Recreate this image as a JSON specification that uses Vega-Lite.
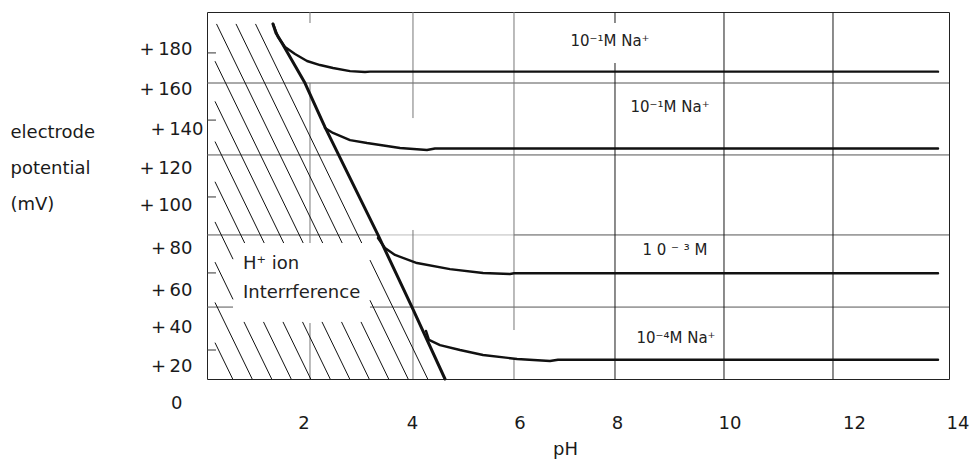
{
  "$schema": "https://vega.github.io/schema/vega-lite/v6.json",
  "width": 742,
  "height": 367,
  "autosize": "none",
  "padding": {"left": 207, "top": 12, "right": 31, "bottom": 80},
  "background": "white",
  "config": {
    "view": {"stroke": "#222", "strokeWidth": 1},
    "font": "DejaVu Sans",
    "axis": {
      "labelFont": "DejaVu Sans",
      "labelFontSize": 18,
      "labelColor": "#1a1a1a",
      "titleFont": "DejaVu Sans",
      "titleFontSize": 18,
      "titleFontWeight": "normal",
      "titleColor": "#1a1a1a",
      "grid": false,
      "ticks": false,
      "domain": false
    }
  },
  "datasets": {
    "hgrid": [
      {"x": 0, "x2": 14.2, "y": 161.3},
      {"x": 0, "x2": 14.2, "y": 122.1},
      {"x": 0, "x2": 3.272, "y": 78.5},
      {"x": 5.875, "x2": 14.2, "y": 78.5},
      {"x": 0, "x2": 0.498, "y": 39.2},
      {"x": 3.119, "x2": 14.2, "y": 39.2}
    ],
    "hfaint": [
      {"x": 3.272, "x2": 5.875, "y": 78.5}
    ],
    "vgrid": [
      {"x": 1.971, "y": 200, "y2": 194.0},
      {"x": 1.971, "y": 161.3, "y2": 74.1},
      {"x": 1.971, "y": 30.5, "y2": 0},
      {"x": 3.942, "y": 200, "y2": 142.2},
      {"x": 3.942, "y": 81.2, "y2": 0},
      {"x": 5.875, "y": 200, "y2": 26.7},
      {"x": 5.875, "y": 11.4, "y2": 0},
      {"x": 7.808, "y": 200, "y2": 194.0},
      {"x": 7.808, "y": 172.2, "y2": 0},
      {"x": 9.894, "y": 200, "y2": 0},
      {"x": 11.98, "y": 200, "y2": 0}
    ],
    "ticks": [
      {"x": 0, "x2": 0.172, "y": 177.7},
      {"x": 0, "x2": 0.172, "y": 141.1},
      {"x": 0, "x2": 0.172, "y": 99.2},
      {"x": 0, "x2": 0.172, "y": 57.8},
      {"x": 0, "x2": 0.172, "y": 15.8}
    ],
    "hatch": [
      {"x": 0.928, "y": 193.5, "x2": 2.961, "y2": 74.1},
      {"x": 3.119, "y": 64.8, "x2": 4.224, "y2": 0},
      {"x": 0.555, "y": 193.5, "x2": 2.587, "y2": 74.1},
      {"x": 3.119, "y": 42.9, "x2": 3.850, "y2": 0},
      {"x": 0.182, "y": 193.5, "x2": 2.214, "y2": 74.1},
      {"x": 2.947, "y": 31.1, "x2": 3.477, "y2": 0},
      {"x": 0.153, "y": 173.2, "x2": 1.841, "y2": 74.1},
      {"x": 2.574, "y": 31.1, "x2": 3.104, "y2": 0},
      {"x": 0.153, "y": 151.3, "x2": 1.468, "y2": 74.1},
      {"x": 2.201, "y": 31.1, "x2": 2.731, "y2": 0},
      {"x": 0.153, "y": 129.4, "x2": 1.095, "y2": 74.1},
      {"x": 1.828, "y": 31.1, "x2": 2.358, "y2": 0},
      {"x": 0.153, "y": 107.5, "x2": 0.721, "y2": 74.1},
      {"x": 1.454, "y": 31.1, "x2": 1.985, "y2": 0},
      {"x": 0.153, "y": 85.6, "x2": 0.498, "y2": 65.3},
      {"x": 1.081, "y": 31.1, "x2": 1.611, "y2": 0},
      {"x": 0.153, "y": 63.7, "x2": 0.498, "y2": 43.4},
      {"x": 0.708, "y": 31.1, "x2": 1.238, "y2": 0},
      {"x": 0.153, "y": 41.7, "x2": 0.865, "y2": 0},
      {"x": 0.153, "y": 19.8, "x2": 0.492, "y2": 0}
    ],
    "curves": [
      {"series": "H+ limit", "i": 0, "x": 1.263, "y": 193.5},
      {"series": "H+ limit", "i": 1, "x": 1.32, "y": 188.6},
      {"series": "H+ limit", "i": 2, "x": 1.435, "y": 183.1},
      {"series": "H+ limit", "i": 3, "x": 1.875, "y": 161.3},
      {"series": "H+ limit", "i": 4, "x": 2.258, "y": 137.3},
      {"series": "H+ limit", "i": 5, "x": 3.272, "y": 78.5},
      {"series": "H+ limit", "i": 6, "x": 3.923, "y": 39.2},
      {"series": "H+ limit", "i": 7, "x": 4.555, "y": 0},
      {"series": "c1", "i": 0, "x": 1.263, "y": 193.5},
      {"series": "c1", "i": 1, "x": 1.359, "y": 186.4},
      {"series": "c1", "i": 2, "x": 1.493, "y": 180.9},
      {"series": "c1", "i": 3, "x": 1.684, "y": 177.1},
      {"series": "c1", "i": 4, "x": 1.914, "y": 173.3},
      {"series": "c1", "i": 5, "x": 2.163, "y": 171.1},
      {"series": "c1", "i": 6, "x": 2.411, "y": 169.5},
      {"series": "c1", "i": 7, "x": 2.737, "y": 167.8},
      {"series": "c1", "i": 8, "x": 3.024, "y": 167.3},
      {"series": "c1", "i": 9, "x": 3.119, "y": 167.5},
      {"series": "c1", "i": 10, "x": 13.99, "y": 167.5},
      {"series": "c2", "i": 0, "x": 2.258, "y": 136.8},
      {"series": "c2", "i": 1, "x": 2.411, "y": 134.1},
      {"series": "c2", "i": 2, "x": 2.737, "y": 130.2},
      {"series": "c2", "i": 3, "x": 3.062, "y": 128.6},
      {"series": "c2", "i": 4, "x": 3.694, "y": 125.9},
      {"series": "c2", "i": 5, "x": 4.21, "y": 124.8},
      {"series": "c2", "i": 6, "x": 4.363, "y": 125.6},
      {"series": "c2", "i": 7, "x": 13.99, "y": 125.6},
      {"series": "c3", "i": 0, "x": 3.272, "y": 76.8},
      {"series": "c3", "i": 1, "x": 3.406, "y": 71.4},
      {"series": "c3", "i": 2, "x": 3.598, "y": 67.6},
      {"series": "c3", "i": 3, "x": 4.019, "y": 63.2},
      {"series": "c3", "i": 4, "x": 4.65, "y": 59.9},
      {"series": "c3", "i": 5, "x": 5.282, "y": 57.8},
      {"series": "c3", "i": 6, "x": 5.799, "y": 57.2},
      {"series": "c3", "i": 7, "x": 5.875, "y": 57.6},
      {"series": "c3", "i": 8, "x": 13.99, "y": 57.6},
      {"series": "c4", "i": 0, "x": 4.191, "y": 26.2},
      {"series": "c4", "i": 1, "x": 4.248, "y": 21.3},
      {"series": "c4", "i": 2, "x": 4.459, "y": 18.5},
      {"series": "c4", "i": 3, "x": 4.842, "y": 15.8},
      {"series": "c4", "i": 4, "x": 5.282, "y": 13.1},
      {"series": "c4", "i": 5, "x": 5.933, "y": 10.9},
      {"series": "c4", "i": 6, "x": 6.564, "y": 9.8},
      {"series": "c4", "i": 7, "x": 6.717, "y": 10.5},
      {"series": "c4", "i": 8, "x": 13.99, "y": 10.5}
    ],
    "conc": [
      {"x": 7.712, "y": 184.2, "text": "10⁻¹M  Na⁺"},
      {"x": 8.861, "y": 148.2, "text": "10⁻¹M  Na⁺"},
      {"x": 8.956, "y": 70.3, "text": "1  0  ⁻  ³  M"},
      {"x": 8.975, "y": 22.3, "text": "10⁻⁴M  Na⁺"}
    ],
    "zone": [
      {"x": 0.689, "y": 62.7, "text": "H⁺  ion"},
      {"x": 0.689, "y": 46.6, "text": "Interrference"}
    ]
  },
  "layer": [
    {
      "data": {"name": "hgrid"},
      "mark": {"type": "rule", "color": "#555", "strokeWidth": 1},
      "encoding": {
        "x": {
          "field": "x", "type": "quantitative",
          "scale": {"domain": [0, 14.2], "nice": false, "zero": false},
          "axis": {
            "orient": "bottom",
            "values": [2, 4, 6, 8, 10, 12, 14],
            "ticks": false, "domain": false, "grid": false,
            "labelPadding": 35,
            "labelOffset": {
              "condition": [
                {"test": "datum.value == 2", "value": -8},
                {"test": "datum.value == 4", "value": -4},
                {"test": "datum.value == 6", "value": -1},
                {"test": "datum.value == 8", "value": -8},
                {"test": "datum.value == 12", "value": 20},
                {"test": "datum.value == 14", "value": 19}
              ],
              "value": 0
            },
            "title": "pH",
            "titleX": 358,
            "titleY": 75,
            "titleAlign": "center",
            "titleBaseline": "alphabetic",
            "titleAngle": 0
          }
        },
        "x2": {"field": "x2"},
        "y": {
          "field": "y", "type": "quantitative",
          "scale": {"domain": [0, 200], "nice": false, "zero": false},
          "axis": {
            "orient": "left",
            "values": [0, 20, 40, 60, 80, 100, 120, 140, 160, 180],
            "labelExpr": "datum.value == 0 ? '0' : '+\u2009' + datum.value",
            "ticks": false, "domain": false, "grid": false,
            "labelPadding": {
              "condition": [
                {"test": "datum.value == 140", "value": 4},
                {"test": "datum.value == 0", "value": 25}
              ],
              "value": 15
            },
            "labelOffset": {
              "condition": [
                {"test": "datum.value == 0", "value": 24},
                {"test": "datum.value == 20", "value": 24},
                {"test": "datum.value == 40", "value": 22},
                {"test": "datum.value == 60", "value": 22},
                {"test": "datum.value == 80", "value": 16},
                {"test": "datum.value == 100", "value": 10},
                {"test": "datum.value == 120", "value": 10},
                {"test": "datum.value == 140", "value": 7},
                {"test": "datum.value == 160", "value": 4},
                {"test": "datum.value == 180", "value": 1}
              ],
              "value": 0
            },
            "title": ["electrode", "potential", "(mV)"],
            "titleAngle": 0,
            "titleAlign": "left",
            "titleBaseline": "alphabetic",
            "titleX": -197,
            "titleY": 125,
            "titleLineHeight": 36
          }
        }
      }
    },
    {
      "data": {"name": "hfaint"},
      "mark": {"type": "rule", "color": "#bbb", "strokeWidth": 1},
      "encoding": {
        "x": {"field": "x", "type": "quantitative"},
        "x2": {"field": "x2"},
        "y": {"field": "y", "type": "quantitative"}
      }
    },
    {
      "data": {"name": "vgrid"},
      "transform": [{"filter": "datum.x < 7"}],
      "mark": {"type": "rule", "color": "#777", "strokeWidth": 1},
      "encoding": {
        "x": {"field": "x", "type": "quantitative"},
        "y": {"field": "y", "type": "quantitative"},
        "y2": {"field": "y2"}
      }
    },
    {
      "data": {"name": "vgrid"},
      "transform": [{"filter": "datum.x >= 7"}],
      "mark": {"type": "rule", "color": "#1a1a1a", "strokeWidth": 1},
      "encoding": {
        "x": {"field": "x", "type": "quantitative"},
        "y": {"field": "y", "type": "quantitative"},
        "y2": {"field": "y2"}
      }
    },
    {
      "data": {"name": "ticks"},
      "mark": {"type": "rule", "color": "#333", "strokeWidth": 1},
      "encoding": {
        "x": {"field": "x", "type": "quantitative"},
        "x2": {"field": "x2"},
        "y": {"field": "y", "type": "quantitative"}
      }
    },
    {
      "data": {"name": "hatch"},
      "mark": {"type": "rule", "color": "#111", "strokeWidth": 1},
      "encoding": {
        "x": {"field": "x", "type": "quantitative"},
        "y": {"field": "y", "type": "quantitative"},
        "x2": {"field": "x2"},
        "y2": {"field": "y2"}
      }
    },
    {
      "data": {"name": "curves"},
      "transform": [{"filter": "datum.series != 'H+ limit'"}],
      "mark": {"type": "line", "color": "#111", "strokeWidth": 2.4, "strokeJoin": "round", "strokeCap": "round"},
      "encoding": {
        "x": {"field": "x", "type": "quantitative"},
        "y": {"field": "y", "type": "quantitative"},
        "detail": {"field": "series"},
        "order": {"field": "i", "type": "quantitative"}
      }
    },
    {
      "data": {"name": "curves"},
      "transform": [{"filter": "datum.series == 'H+ limit'"}],
      "mark": {"type": "line", "color": "#111", "strokeWidth": 3, "strokeJoin": "round", "strokeCap": "round"},
      "encoding": {
        "x": {"field": "x", "type": "quantitative"},
        "y": {"field": "y", "type": "quantitative"},
        "order": {"field": "i", "type": "quantitative"}
      }
    },
    {
      "data": {"name": "conc"},
      "mark": {"type": "text", "font": "DejaVu Sans", "fontSize": 15, "align": "center", "baseline": "middle", "color": "#222"},
      "encoding": {
        "x": {"field": "x", "type": "quantitative"},
        "y": {"field": "y", "type": "quantitative"},
        "text": {"field": "text"}
      }
    },
    {
      "data": {"name": "zone"},
      "mark": {"type": "text", "font": "DejaVu Sans", "fontSize": 18, "align": "left", "baseline": "middle", "color": "#222"},
      "encoding": {
        "x": {"field": "x", "type": "quantitative"},
        "y": {"field": "y", "type": "quantitative"},
        "text": {"field": "text"}
      }
    }
  ]
}
